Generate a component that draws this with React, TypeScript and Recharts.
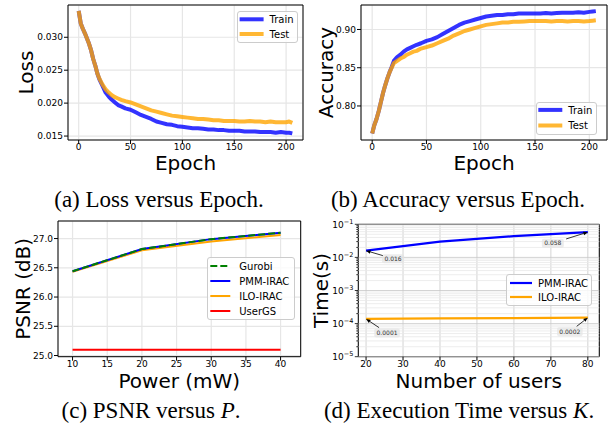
import React from 'react'
import {
  LineChart,
  Line,
  XAxis,
  YAxis,
  CartesianGrid,
  ReferenceArea,
  ReferenceLine,
  ReferenceDot,
  Label,
  Legend,
} from 'recharts'

// ---- data: (a) / (b) training curves ----
const epochs = [
  0, 2, 4, 6, 8, 10, 12, 14, 16, 18, 20, 23, 26, 29, 32, 35, 38, 41, 45, 50, 55, 60, 65, 70, 75, 80, 85, 90,
  95, 100, 105, 110, 115, 120, 125, 130, 135, 140, 145, 150, 155, 160, 165, 170, 175, 180, 185, 190, 195,
  200, 203, 206,
]
const trainLoss = [
  0.034, 0.0321, 0.0313, 0.0306, 0.0298, 0.029, 0.028, 0.0267, 0.0257, 0.0245, 0.0236, 0.0226, 0.0216,
  0.021, 0.0205, 0.0201, 0.0197, 0.0195, 0.0192, 0.019, 0.0186, 0.0182, 0.0179, 0.0176, 0.0172, 0.017,
  0.0168, 0.0167, 0.0165, 0.0164, 0.0163, 0.0162, 0.0162, 0.0161, 0.016, 0.016, 0.0159, 0.0159, 0.0158,
  0.0158, 0.0158, 0.0157, 0.0157, 0.0157, 0.0156, 0.0156, 0.0156, 0.0155, 0.0156, 0.0155, 0.0155, 0.0154,
]
const testLoss = [
  0.034, 0.0321, 0.0313, 0.0306, 0.0298, 0.029, 0.028, 0.0267, 0.0257, 0.0245, 0.0237, 0.0228, 0.0221,
  0.0216, 0.0212, 0.0209, 0.0207, 0.0205, 0.0203, 0.0201, 0.0198, 0.0195, 0.0192, 0.0189, 0.0187, 0.0185,
  0.0183, 0.0181, 0.018, 0.0179, 0.0178, 0.0177, 0.0176, 0.0176, 0.0175, 0.0174, 0.0174, 0.0173, 0.0173,
  0.0173, 0.0172, 0.0172, 0.0173, 0.0172, 0.0172, 0.0171, 0.0172, 0.0171, 0.0171, 0.0171, 0.0172, 0.017,
]
const trainAcc = [
  0.764, 0.775, 0.783, 0.793, 0.805, 0.817, 0.827, 0.836, 0.844, 0.851, 0.859, 0.864, 0.867, 0.871, 0.874,
  0.876, 0.878, 0.88, 0.882, 0.885, 0.887, 0.89, 0.894, 0.898, 0.902, 0.906, 0.909, 0.911, 0.913, 0.915,
  0.917, 0.918, 0.919, 0.919, 0.92, 0.92, 0.921, 0.921, 0.921, 0.921, 0.921, 0.9215, 0.921, 0.9215, 0.922,
  0.922, 0.922, 0.9225, 0.922, 0.923, 0.9235, 0.924,
]
const testAcc = [
  0.764, 0.775, 0.783, 0.793, 0.805, 0.817, 0.827, 0.836, 0.844, 0.85, 0.856, 0.859, 0.862, 0.864, 0.867,
  0.869, 0.871, 0.872, 0.875, 0.877, 0.879, 0.882, 0.885, 0.888, 0.892, 0.895, 0.898, 0.9, 0.902, 0.904,
  0.906, 0.907, 0.908, 0.909, 0.909, 0.91, 0.91, 0.9105, 0.911, 0.911, 0.911, 0.911, 0.9105, 0.911, 0.911,
  0.9105, 0.911, 0.911, 0.9105, 0.911, 0.9115, 0.912,
]
const epochTicks = [0, 50, 100, 150, 200]
const lossTicks = [0.015, 0.02, 0.025, 0.03]
const accTicks = [0.8, 0.85, 0.9]

// ---- data: (c) PSNR versus power ----
const powers = [10, 20, 30, 40]
const gurobiPsnr = [26.44, 26.82, 26.99, 27.1]
const pmmPsnr = [26.44, 26.82, 26.99, 27.1]
const iloPsnr = [26.43, 26.8, 26.95, 27.06]
const userGsPsnr = [25.1, 25.1, 25.1, 25.1]
const powerTicks = [10, 15, 20, 25, 30, 35, 40]
const psnrTicks = [25.0, 25.5, 26.0, 26.5, 27.0]

// ---- data: (d) execution time versus users ----
const users = [20, 40, 60, 80]
const pmmTime = [0.016, 0.03, 0.044, 0.058]
const iloTime = [0.000138, 0.000143, 0.000147, 0.000151]
const userTicks = [20, 30, 40, 50, 60, 70, 80]
const decadeTicks = [1e-5, 1e-4, 1e-3, 1e-2, 1e-1]
const minorTicks = [1e-5, 1e-4, 1e-3, 1e-2].flatMap((d) => [2, 3, 4, 5, 6, 7, 8, 9].map((m) => m * d))

const lossData = epochs.map((e, i) => ({ epoch: e, train: trainLoss[i], test: testLoss[i] }))
const accData = epochs.map((e, i) => ({ epoch: e, train: trainAcc[i], test: testAcc[i] }))
const psnrData = powers.map((p, i) => ({
  power: p,
  gurobi: gurobiPsnr[i],
  pmm: pmmPsnr[i],
  ilo: iloPsnr[i],
  usergs: userGsPsnr[i],
}))
const timeData = users.map((u, i) => ({ users: u, pmm: pmmTime[i], ilo: iloTime[i] }))

const FONT = '"DejaVu Sans", sans-serif'
const SERIF = '"Liberation Serif", "Times New Roman", serif'
const BLUE = '#0000ff'
const ORANGE = '#ffa500'
const GRID = '#e6e6e6'
const tickStyle = { fontSize: 9, fill: '#000', fontFamily: FONT }
const titleStyle = { fontSize: 20, fill: '#000', fontFamily: FONT }
const yTitleStyle = { ...titleStyle, textAnchor: 'middle' as const }

type LegendRow = { label: string; color: string; width: number; opacity?: number; dash?: string }

function LegendBox(props: {
  width: number
  height: number
  rows: LegendRow[]
  firstY: number
  step: number
  lineX: number
  lineLen: number
  textX: number
}) {
  const { width, height, rows, firstY, step, lineX, lineLen, textX } = props
  return (
    <div
      style={{
        width,
        height,
        boxSizing: 'border-box',
        border: '1px solid #cccccc',
        borderRadius: 3,
        background: 'rgba(255,255,255,0.8)',
        position: 'relative',
      }}
    >
      <svg width={width} height={height} style={{ position: 'absolute', left: -1, top: -1, overflow: 'visible' }}>
        {rows.map((r, i) => {
          const y = firstY + i * step
          return (
            <g key={r.label}>
              <line
                x1={lineX}
                x2={lineX + lineLen}
                y1={y}
                y2={y}
                stroke={r.color}
                strokeWidth={r.width}
                strokeOpacity={r.opacity ?? 1}
                strokeDasharray={r.dash}
              />
              <text x={textX} y={y} dy="0.36em" fontSize={10} fontFamily={FONT} fill="#000">
                {r.label}
              </text>
            </g>
          )
        })}
      </svg>
    </div>
  )
}

const TICK = 4
const GAP = 1

// log axis tick: decades get a label with superscript, minors only a short mark
const LogTick = (props: any) => {
  const { x, y, payload } = props
  const v = payload.value
  const lg = Math.log10(v)
  const exp = Math.round(lg)
  const major = Math.abs(lg - exp) < 1e-6
  const ax = x + TICK + GAP
  return (
    <g>
      <line x1={ax} x2={ax - (major ? 3.5 : 2)} y1={y} y2={y} stroke="#000" strokeWidth={0.8} />
      {major && (
        <text x={x} y={y} dy="0.36em" textAnchor="end" fontSize={9} fontFamily={FONT} fill="#000">
          10
          <tspan dy={-4} fontSize={6.5}>
            {'\u2212' + Math.abs(exp)}
          </tspan>
        </text>
      )}
    </g>
  )
}

const Annot = (props: any) => {
  const { cx, cy, dx, dy, text } = props
  const bx = cx + dx
  const by = cy + dy
  const tx = cx + dx * 0.62
  const ty = cy + dy * 0.62
  const len = Math.hypot(cx - tx, cy - ty)
  const ux = (cx - tx) / len
  const uy = (cy - ty) / len
  const hx = cx - ux * 4.5
  const hy = cy - uy * 4.5
  const w = text.length * 3.6 + 4
  return (
    <g>
      <rect x={bx - w / 2} y={by - 4.5} width={w} height={9} rx={2} fill="#e4e4e4" fillOpacity={0.7} />
      <text x={bx} y={by} dy="0.36em" textAnchor="middle" fontSize={6} fontFamily={FONT} fill="#333">
        {text}
      </text>
      <line x1={tx} y1={ty} x2={hx} y2={hy} stroke="#000" strokeWidth={0.8} />
      <polygon
        points={`${cx},${cy} ${hx - uy * 1.8},${hy + ux * 1.8} ${hx + uy * 1.8},${hy - ux * 1.8}`}
        fill="#000"
      />
    </g>
  )
}

const annotations = [
  { x: users[0], y: pmmTime[0], text: pmmTime[0].toFixed(3), dx: 27, dy: 8 },
  { x: users[3], y: pmmTime[3], text: pmmTime[3].toFixed(3), dx: -35, dy: 11 },
  { x: users[0], y: iloTime[0], text: iloTime[0].toFixed(4), dx: 21, dy: 14 },
  { x: users[3], y: iloTime[3], text: iloTime[3].toFixed(4), dx: -18, dy: 14 },
]

const Caption = ({ cx, top, children }: { cx: number; top: number; children: React.ReactNode }) => (
  <div
    style={{
      position: 'absolute',
      left: cx - 150,
      top,
      width: 300,
      textAlign: 'center',
      fontFamily: SERIF,
      fontSize: 23,
      lineHeight: '23px',
      color: '#000',
      whiteSpace: 'nowrap',
    }}
  >
    {children}
  </div>
)

export default function App() {
  return (
    <div style={{ position: 'absolute', left: 0, top: 0, width: 610, height: 430, background: '#fff' }}>
      {/* (a) Loss */}
      <div style={{ position: 'absolute', left: 0, top: 0 }}>
        <LineChart width={305} height={185} data={lossData} margin={{ top: 5, right: 2, bottom: 15, left: 0 }}>
          <CartesianGrid stroke={GRID} strokeWidth={1.2} />
          <XAxis
            dataKey="epoch"
            type="number"
            domain={[-10.3, 216.3]}
            allowDataOverflow
            ticks={epochTicks}
            interval={0}
            height={30}
            tick={tickStyle}
            tickSize={TICK}
            tickMargin={0}
            axisLine={false}
            tickLine={{ stroke: '#000' }}
          >
            <Label value="Epoch" position="insideBottom" offset={0} style={titleStyle} />
          </XAxis>
          <YAxis
            type="number"
            domain={[0.0144, 0.0349]}
            allowDataOverflow
            ticks={lossTicks}
            interval={0}
            width={68}
            tick={tickStyle}
            tickSize={TICK}
            tickMargin={GAP}
            tickFormatter={(v: number) => v.toFixed(3)}
            axisLine={false}
            tickLine={{ stroke: '#000' }}
          >
            <Label value="Loss" angle={-90} position="insideLeft" offset={26} style={yTitleStyle} />
          </YAxis>
          <Line dataKey="train" name="Train" stroke={BLUE} strokeOpacity={0.8} strokeWidth={4} dot={false} isAnimationActive={false} strokeLinejoin="round" />
          <Line dataKey="test" name="Test" stroke={ORANGE} strokeOpacity={0.8} strokeWidth={4} dot={false} isAnimationActive={false} strokeLinejoin="round" />
          <ReferenceArea x1={-10.3} x2={216.3} y1={0.0144} y2={0.0349} fill="none" stroke="#000" strokeWidth={1} ifOverflow="visible" />
          <Legend
            verticalAlign="middle"
            align="center"
            wrapperStyle={{ left: 236.7, top: 11, width: 61, height: 32.3 }}
            content={() => (
              <LegendBox
                width={61}
                height={32.3}
                rows={[
                  { label: 'Train', color: BLUE, width: 4, opacity: 0.8 },
                  { label: 'Test', color: ORANGE, width: 4, opacity: 0.8 },
                ]}
                firstY={8.3}
                step={14.7}
                lineX={2.6}
                lineLen={24}
                textX={32.6}
              />
            )}
          />
        </LineChart>
      </div>

      {/* (b) Accuracy */}
      <div style={{ position: 'absolute', left: 305, top: 0 }}>
        <LineChart width={305} height={185} data={accData} margin={{ top: 5, right: 3, bottom: 15, left: 0 }}>
          <CartesianGrid stroke={GRID} strokeWidth={1.2} />
          <XAxis
            dataKey="epoch"
            type="number"
            domain={[-10.3, 216.3]}
            allowDataOverflow
            ticks={epochTicks}
            interval={0}
            height={30}
            tick={tickStyle}
            tickSize={TICK}
            tickMargin={0}
            axisLine={false}
            tickLine={{ stroke: '#000' }}
          >
            <Label value="Epoch" position="insideBottom" offset={0} style={titleStyle} />
          </XAxis>
          <YAxis
            type="number"
            domain={[0.7555, 0.932]}
            allowDataOverflow
            ticks={accTicks}
            interval={0}
            width={56}
            tick={tickStyle}
            tickSize={TICK}
            tickMargin={GAP}
            tickFormatter={(v: number) => v.toFixed(2)}
            axisLine={false}
            tickLine={{ stroke: '#000' }}
          >
            <Label value="Accuracy" angle={-90} position="insideLeft" offset={21.4} style={yTitleStyle} />
          </YAxis>
          <Line dataKey="train" name="Train" stroke={BLUE} strokeOpacity={0.8} strokeWidth={4} dot={false} isAnimationActive={false} strokeLinejoin="round" />
          <Line dataKey="test" name="Test" stroke={ORANGE} strokeOpacity={0.8} strokeWidth={4} dot={false} isAnimationActive={false} strokeLinejoin="round" />
          <ReferenceArea x1={-10.3} x2={216.3} y1={0.7555} y2={0.932} fill="none" stroke="#000" strokeWidth={1} ifOverflow="visible" />
          <Legend
            verticalAlign="middle"
            align="center"
            wrapperStyle={{ left: 230.7, top: 102.3, width: 61.6, height: 32.7 }}
            content={() => (
              <LegendBox
                width={61.6}
                height={32.7}
                rows={[
                  { label: 'Train', color: BLUE, width: 4, opacity: 0.8 },
                  { label: 'Test', color: ORANGE, width: 4, opacity: 0.8 },
                ]}
                firstY={7.9}
                step={15.6}
                lineX={2.3}
                lineLen={24}
                textX={32.3}
              />
            )}
          />
        </LineChart>
      </div>

      {/* (c) PSNR */}
      <div style={{ position: 'absolute', left: 0, top: 215 }}>
        <LineChart width={305} height={185} data={psnrData} margin={{ top: 6, right: 4.3, bottom: 12.3, left: 0 }}>
          <CartesianGrid stroke={GRID} strokeWidth={1.2} />
          <XAxis
            dataKey="power"
            type="number"
            domain={[7.9, 42.9]}
            allowDataOverflow
            ticks={powerTicks}
            interval={0}
            height={31}
            tick={tickStyle}
            tickSize={TICK}
            tickMargin={0}
            axisLine={false}
            tickLine={{ stroke: '#000' }}
          >
            <Label value="Power (mW)" position="insideBottom" offset={0} style={titleStyle} />
          </XAxis>
          <YAxis
            type="number"
            domain={[24.98, 27.3]}
            allowDataOverflow
            ticks={psnrTicks}
            interval={0}
            width={58}
            tick={tickStyle}
            tickSize={TICK}
            tickMargin={GAP}
            tickFormatter={(v: number) => v.toFixed(1)}
            axisLine={false}
            tickLine={{ stroke: '#000' }}
          >
            <Label value="PSNR (dB)" angle={-90} position="insideLeft" offset={23.4} style={yTitleStyle} />
          </YAxis>
          <Line dataKey="ilo" name="ILO-IRAC" stroke={ORANGE} strokeWidth={2} dot={false} isAnimationActive={false} />
          <Line dataKey="pmm" name="PMM-IRAC" stroke={BLUE} strokeWidth={2} dot={false} isAnimationActive={false} />
          <Line dataKey="gurobi" name="Gurobi" stroke="#008000" strokeWidth={2} strokeDasharray="7 3" dot={false} isAnimationActive={false} />
          <Line dataKey="usergs" name="UserGS" stroke="#ff0000" strokeWidth={2} dot={false} isAnimationActive={false} />
          <ReferenceArea x1={7.9} x2={42.9} y1={24.98} y2={27.3} fill="none" stroke="#000" strokeWidth={1} ifOverflow="visible" />
          <Legend
            verticalAlign="middle"
            align="center"
            wrapperStyle={{ left: 206.7, top: 41.7, width: 88.3, height: 63.3 }}
            content={() => (
              <LegendBox
                width={88.3}
                height={63.3}
                rows={[
                  { label: 'Gurobi', color: '#008000', width: 2, dash: '7 3' },
                  { label: 'PMM-IRAC', color: BLUE, width: 2 },
                  { label: 'ILO-IRAC', color: ORANGE, width: 2 },
                  { label: 'UserGS', color: '#ff0000', width: 2 },
                ]}
                firstY={9}
                step={15}
                lineX={3.3}
                lineLen={20}
                textX={32.3}
              />
            )}
          />
        </LineChart>
      </div>

      {/* (d) Execution time */}
      <div style={{ position: 'absolute', left: 305, top: 215 }}>
        <LineChart width={305} height={185} data={timeData} margin={{ top: 9.3, right: 10.7, bottom: 12.3, left: 0 }}>
          <CartesianGrid stroke="#c8c8c8" strokeWidth={0.8} horizontal={false} />
          {minorTicks.map((v) => (
            <ReferenceLine key={'m' + v} y={v} stroke="#e8e8e8" strokeWidth={0.8} />
          ))}
          {decadeTicks.map((v) => (
            <ReferenceLine key={'d' + v} y={v} stroke="#c8c8c8" strokeWidth={0.8} />
          ))}
          <XAxis
            dataKey="users"
            type="number"
            domain={[17.9, 83.1]}
            allowDataOverflow
            ticks={userTicks}
            interval={0}
            height={31}
            tick={tickStyle}
            tickSize={TICK}
            tickMargin={0}
            axisLine={false}
            tickLine={{ stroke: '#000' }}
          >
            <Label value="Number of users" position="insideBottom" offset={0} style={titleStyle} />
          </XAxis>
          <YAxis
            type="number"
            scale="log"
            domain={[1e-5, 1e-1]}
            allowDataOverflow
            ticks={[...decadeTicks, ...minorTicks].sort((a, b) => a - b)}
            interval={0}
            width={53.3}
            tick={<LogTick />}
            tickSize={TICK}
            tickMargin={GAP}
            axisLine={false}
            tickLine={false}
          >
            <Label value="Time(s)" angle={-90} position="insideLeft" offset={16.4} style={yTitleStyle} />
          </YAxis>
          <Line dataKey="pmm" name="PMM-IRAC" stroke={BLUE} strokeWidth={2.2} dot={false} isAnimationActive={false} />
          <Line dataKey="ilo" name="ILO-IRAC" stroke={ORANGE} strokeWidth={2.2} dot={false} isAnimationActive={false} />
          {annotations.map((a) => (
            <ReferenceDot
              key={a.text + a.x}
              x={a.x}
              y={a.y}
              r={0}
              shape={(p: any) => <Annot {...p} dx={a.dx} dy={a.dy} text={a.text} />}
            />
          ))}
          <ReferenceArea x1={17.9} x2={83.1} y1={1e-5} y2={1e-1} fill="none" stroke="#000" strokeWidth={1} ifOverflow="visible" />
          <Legend
            verticalAlign="middle"
            align="center"
            wrapperStyle={{ left: 201, top: 59, width: 86, height: 32 }}
            content={() => (
              <LegendBox
                width={86}
                height={32}
                rows={[
                  { label: 'PMM-IRAC', color: BLUE, width: 2.2 },
                  { label: 'ILO-IRAC', color: ORANGE, width: 2.2 },
                ]}
                firstY={9}
                step={14}
                lineX={4}
                lineLen={22}
                textX={32}
              />
            )}
          />
        </LineChart>
      </div>

      <Caption cx={159} top={188}>(a) Loss versus Epoch.</Caption>
      <Caption cx={458} top={188}>(b) Accuracy versus Epoch.</Caption>
      <Caption cx={151} top={399}>
        (c) PSNR versus <i>P</i>.
      </Caption>
      <Caption cx={459} top={399}>
        (d) Execution Time versus <i>K</i>.
      </Caption>
    </div>
  )
}
